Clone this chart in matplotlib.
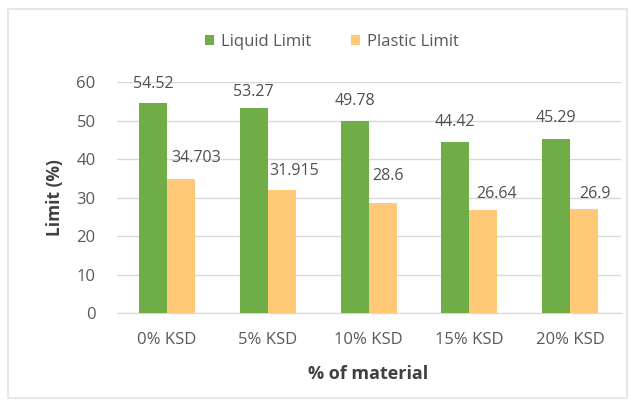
import matplotlib
matplotlib.use("Agg")
import matplotlib.pyplot as plt
import numpy as np
from matplotlib.patches import Rectangle

plt.rcParams['font.family'] = ['Open Sans', 'DejaVu Sans']

# soil limits for each KSD replacement level
materials = ['0% KSD', '5% KSD', '10% KSD', '15% KSD', '20% KSD']
liquid_limit = [54.52, 53.27, 49.78, 44.42, 45.29]
plastic_limit = [34.703, 31.915, 28.6, 26.64, 26.9]
liquid_text = ['54.52', '53.27', '49.78', '44.42', '45.29']
plastic_text = ['34.703', '31.915', '28.6', '26.64', '26.9']

# label nudges (pixels) so the numbers sit where the author dragged them
liquid_nudge = [(0, 19), (0, 16), (0, 20), (0, 20), (0, 21)]
plastic_nudge = [(15, 21), (12, 19), (5, 27), (13, 16), (11, 15)]

green = '#70AD47'
orange = '#FFC978'
grid_c = '#D9D9D9'
txt_c = '#595959'

fig = plt.figure(figsize=(6.30, 4.03), dpi=100)
ax = fig.add_axes([0.185, 0.2233, 0.80, 0.5732])

x = np.arange(len(materials))
w = 0.278
b1 = ax.bar(x - w/2, liquid_limit, w, color=green, label='Liquid Limit', zorder=3)
b2 = ax.bar(x + w/2, plastic_limit, w, color=orange, label='Plastic Limit', zorder=3)

for rect, t, (dx, dy) in zip(b1, liquid_text, liquid_nudge):
    ax.annotate(t, xy=(rect.get_x() + rect.get_width()/2, rect.get_height()),
                xytext=(dx, dy), textcoords='offset pixels',
                ha='center', va='center', fontsize=11.5, color='#505050')
for rect, t, (dx, dy) in zip(b2, plastic_text, plastic_nudge):
    ax.annotate(t, xy=(rect.get_x() + rect.get_width()/2, rect.get_height()),
                xytext=(dx, dy), textcoords='offset pixels',
                ha='center', va='center', fontsize=11.5, color='#505050')

ax.set_xlim(-0.5, len(materials) - 0.5)
ax.set_ylim(0, 60)
ax.set_yticks(range(0, 61, 10))
ax.set_xticks(x)
ax.set_xticklabels(materials)
ax.yaxis.grid(True, color=grid_c, linewidth=1, zorder=0)
ax.set_axisbelow(True)
for s in ['top', 'right', 'left']:
    ax.spines[s].set_visible(False)
ax.spines['bottom'].set_color(grid_c)
ax.tick_params(axis='both', length=0, labelsize=12, labelcolor=txt_c)
ax.tick_params(axis='y', pad=15)
ax.tick_params(axis='x', pad=14)

ax.set_ylabel('Limit (%)', fontsize=12.5, fontweight='bold', color='#404040', labelpad=9)
ax.set_xlabel('% of material', fontsize=13, fontweight='bold', color='#404040', labelpad=12)

fig.legend(loc='center', bbox_to_anchor=(332/630, 1 - 42/403), ncol=2,
           frameon=False, fontsize=12, labelcolor=txt_c,
           handlelength=0.55, handleheight=0.55, handletextpad=0.4, columnspacing=2.4)

# chart area frame
fig.patches.append(Rectangle((8/630, 1 - 398/403), 619/630, 389/403,
                             transform=fig.transFigure, fill=False,
                             edgecolor='#E3E3E3', linewidth=1.2))

fig.savefig('out.png', dpi=100)
